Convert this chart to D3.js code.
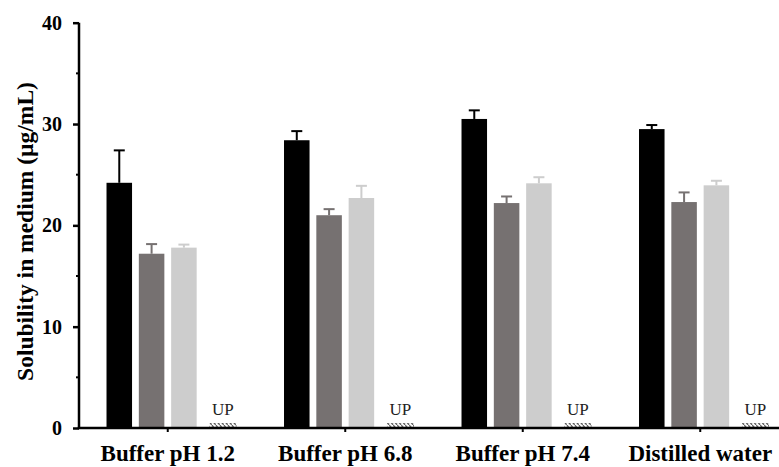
<!DOCTYPE html>
<html>
<head>
<meta charset="utf-8">
<script src="https://cdn.jsdelivr.net/npm/d3@7"></script>
<style>
  html, body { margin: 0; padding: 0; background: #fff; }
  svg { display: block; }
  text { font-family: "Liberation Serif", "Times New Roman", serif; }
</style>
</head>
<body>
<svg id="chart" width="779" height="467"></svg>
<script>
// Solubility of each formulation in four media (mean and SD, µg/mL)
const media = ["Buffer pH 1.2", "Buffer pH 6.8", "Buffer pH 7.4", "Distilled water"];
const seriesNames = ["F1", "F2", "F3", "Drug"];
const seriesColors = ["#000000", "#767171", "#cdcdcd", "#555555"];
const valuesF1 = [24.2, 28.4, 30.5, 29.5];
const errorsF1 = [3.2, 0.9, 0.85, 0.4];
const valuesF2 = [17.2, 21.0, 22.2, 22.3];
const errorsF2 = [0.95, 0.6, 0.65, 0.95];
const valuesF3 = [17.8, 22.7, 24.15, 23.95];
const errorsF3 = [0.3, 1.2, 0.6, 0.45];
const valuesDrug = [0, 0, 0, 0];       // undetectable: marked "UP"
const yTicks = [0, 10, 20, 30, 40];
const yMinorTicks = [5, 15, 25, 35];
const yTitle = "Solubility in medium (µg/mL)";
const zeroLabel = "UP";

const seriesValues = [valuesF1, valuesF2, valuesF3, valuesDrug];
const seriesErrors = [errorsF1, errorsF2, errorsF3, null];

const svg = d3.select("#chart");

const plotLeft = 79, plotBottom = 428, plotTop = 22.7;
const x0 = d3.scaleBand().domain(media).range([plotLeft, plotLeft + 4 * 177.5]).padding(0);
const groupW = x0.bandwidth() * 0.69;
const x1 = d3.scaleBand().domain(seriesNames).range([-groupW / 2, groupW / 2]).paddingInner(0.21);
const y = d3.scaleLinear().domain([0, 40]).range([plotBottom, plotTop]);

// hatch pattern for the undetectable series
const defs = svg.append("defs");
const pat = defs.append("pattern")
  .attr("id", "hatch").attr("patternUnits", "userSpaceOnUse")
  .attr("width", 4).attr("height", 5);
pat.append("path").attr("d", "M0,0 L4,5").attr("stroke", "#333").attr("stroke-width", 1.1);

const rows = media.map((m, i) => ({
  medium: m,
  bars: seriesNames.map((s, j) => ({
    series: s, j, value: seriesValues[j][i],
    err: seriesErrors[j] ? seriesErrors[j][i] : null
  }))
}));

const groups = svg.append("g").selectAll("g").data(rows).join("g")
  .attr("transform", d => `translate(${x0(d.medium) + x0.bandwidth() / 2},0)`);

const measured = groups.selectAll("g.bar").data(d => d.bars.filter(b => b.err !== null))
  .join("g").attr("class", "bar");

// error bars (upper half only)
measured.append("line")
  .attr("x1", d => x1(d.series) + x1.bandwidth() / 2)
  .attr("x2", d => x1(d.series) + x1.bandwidth() / 2)
  .attr("y1", d => y(d.value))
  .attr("y2", d => y(d.value + d.err))
  .attr("stroke", d => seriesColors[d.j]).attr("stroke-width", 2);
measured.append("line")
  .attr("x1", d => x1(d.series) + x1.bandwidth() / 2 - 5.5)
  .attr("x2", d => x1(d.series) + x1.bandwidth() / 2 + 5.5)
  .attr("y1", d => y(d.value + d.err))
  .attr("y2", d => y(d.value + d.err))
  .attr("stroke", d => seriesColors[d.j]).attr("stroke-width", 2);

measured.append("rect")
  .attr("x", d => x1(d.series))
  .attr("width", x1.bandwidth())
  .attr("y", d => y(d.value))
  .attr("height", d => y(0) - y(d.value))
  .attr("fill", d => seriesColors[d.j]);

// undetectable series: hatched strip plus label
const und = groups.selectAll("g.und").data(d => d.bars.filter(b => b.err === null))
  .join("g").attr("class", "und");
und.append("rect")
  .attr("x", d => x1(d.series) + 6)
  .attr("width", x1.bandwidth() + 1.5)
  .attr("y", d => y(d.value) - 5)
  .attr("height", 4.5)
  .attr("fill", "url(#hatch)");
und.append("text")
  .attr("x", d => x1(d.series) + 6 + (x1.bandwidth() + 1.5) / 2)
  .attr("y", d => y(d.value) - 13)
  .attr("text-anchor", "middle")
  .attr("font-size", 17)
  .attr("fill", "#222")
  .text(zeroLabel);

// y axis
const yAxis = svg.append("g").attr("transform", `translate(${plotLeft},0)`)
  .call(d3.axisLeft(y).tickValues(yTicks).tickSize(6).tickPadding(11).tickFormat(d3.format("d")));
yAxis.select(".domain").attr("d", `M0,${y(40)}V${y(0)}`).attr("stroke-width", 2.5);
yAxis.selectAll(".tick line").attr("stroke-width", 2.5);
yAxis.selectAll(".tick text")
  .attr("font-family", "'Liberation Serif', 'Times New Roman', serif")
  .attr("font-weight", "bold").attr("font-size", 20).attr("fill", "#000");
svg.append("g").attr("transform", `translate(${plotLeft},0)`)
  .selectAll("line").data(yMinorTicks).join("line")
  .attr("x1", -3).attr("x2", 0)
  .attr("y1", d => y(d)).attr("y2", d => y(d))
  .attr("stroke", "#000").attr("stroke-width", 2);

// x axis
const xAxis = svg.append("g").attr("transform", `translate(0,${plotBottom})`)
  .call(d3.axisBottom(x0).tickSize(4).tickPadding(13));
xAxis.select(".domain").attr("d", `M${plotLeft - 1.25},0H779`).attr("stroke-width", 2.5);
xAxis.selectAll(".tick line").attr("stroke-width", 2);
xAxis.selectAll(".tick text")
  .attr("font-family", "'Liberation Serif', 'Times New Roman', serif")
  .attr("font-weight", "bold").attr("font-size", 23).attr("fill", "#000");

// y title
svg.append("text")
  .attr("transform", `translate(33,231.5) rotate(-90)`)
  .attr("text-anchor", "middle")
  .attr("font-weight", "bold").attr("font-size", 23.5)
  .text(yTitle);
</script>
</body>
</html>
